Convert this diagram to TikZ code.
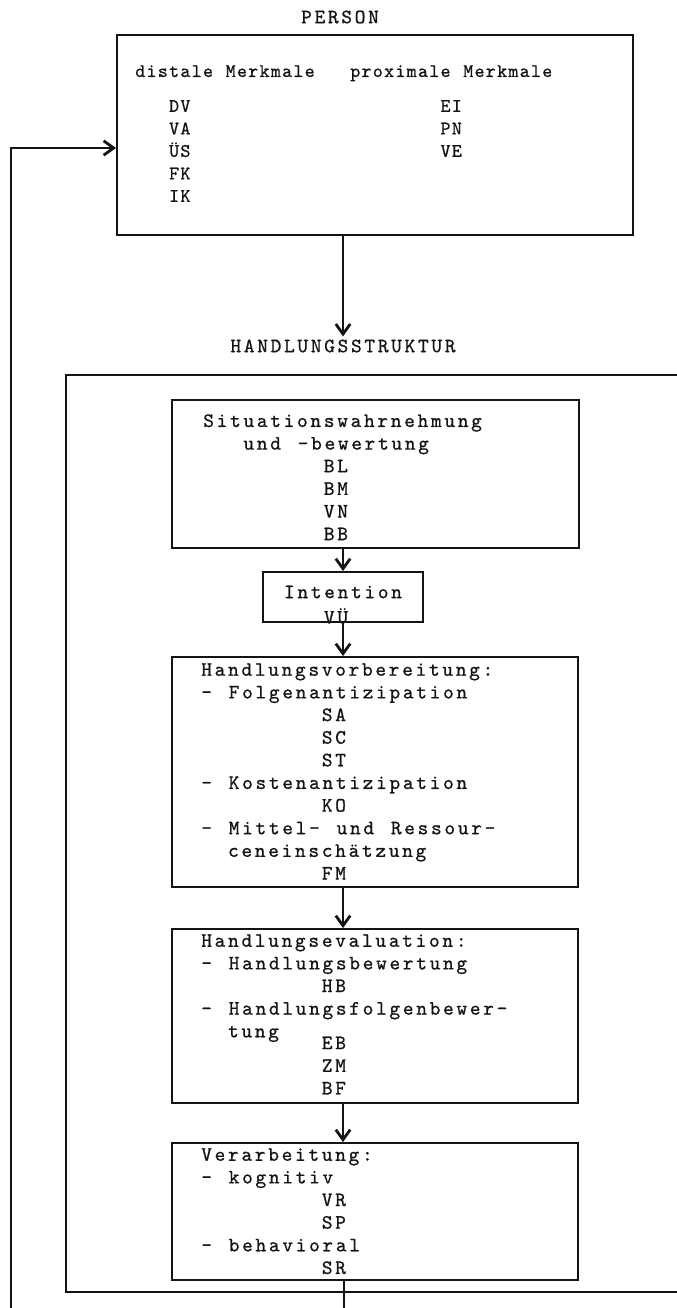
\documentclass[tikz,border=0pt]{standalone}
\usepackage{fontspec}
\usetikzlibrary{arrows.meta, positioning, calc}
\newfontfamily\typefont{lmmono10-regular.otf}[LetterSpace=13.2, WordSpace=1.252, FakeBold=0.8]
\newfontfamily\typefontnarrow{lmmono10-regular.otf}[LetterSpace=6.5, WordSpace=1.124, FakeBold=0.8]
\definecolor{TypeBlack}{HTML}{141414}
\newcommand{\typ}{\typefont\fontsize{14.5pt}{16.1pt}\selectfont}
\newcommand{\typsmall}{\typefontnarrow\fontsize{13.6pt}{16pt}\selectfont}
\newcommand{\tab}[1]{\setbox0\hbox{xx}\setbox2\hbox{x}\hspace*{#1\dimexpr\wd0-\wd2\relax}}
\tikzset{
    box/.style={
        draw=TypeBlack,
        line width=1.3pt,
        inner sep=0pt
    },
    heading/.style={
        font=\typ,
        text=TypeBlack,
        inner sep=2pt
    },
    txt/.style={
        font=\typ,
        text=TypeBlack,
        anchor=north west,
        align=left,
        inner sep=0pt
    },
    txtsmall/.style={
        txt,
        font=\typsmall
    },
    arrow/.style={
        -{Straight Barb[length=2.5mm, width=3.6mm, line width=2pt]},
        line width=1.4pt,
        TypeBlack
    },
    plainline/.style={
        line width=1.1pt,
        TypeBlack
    }
}

\begin{document}
\begin{tikzpicture}[x=0.025cm, y=-0.025cm]
        \useasboundingbox (0,0) rectangle (677,1308);

        % Person
        \node[heading] (ptitle) at (340,17) {PERSON};
        \node[box, minimum width=12.9cm, minimum height=5cm] (person) at (375,135) {};
        \node[txtsmall] (distal) at (135,65) {distale Merkmale\\[0.31cm]\tab{3}DV\\\tab{3}VA\\\tab{3}ÜS\\\tab{3}FK\\\tab{3}IK};
        \node[txtsmall] (proximal) at (350,65) {proximale Merkmale\\[0.31cm]\tab{8}EI\\\tab{8}PN\\\tab{8}VE};

        % Handlungsstruktur
        \node[heading] (hstitle) at (343,346) {HANDLUNGSSTRUKTUR};
        \node[box, minimum width=17.35cm, minimum height=22.925cm] (hstruct) at (413,833.5) {};

        % Situation
        \node[box, minimum width=10.175cm, minimum height=3.7cm] (sit) at (375.5,474) {};
        \node[txt] (sittext) at (203,414) {Situationswahrnehmung\\\tab{3}und -bewertung\\\tab{9}BL\\\tab{9}BM\\\tab{9}VN\\\tab{9}BB};

        % Intention
        \node[box, minimum width=4cm, minimum height=1.25cm] (intent) at (343,597) {};
        \node[heading] (intenttext) at (343,592) {Intention};
        \node[heading, inner sep=0pt] (vue) at (336,616) {VÜ};

        % Handlungsvorbereitung
        \node[box, minimum width=10.15cm, minimum height=5.75cm] (prep) at (375,772) {};
        \node[txt] (preptext) at (201,663) {Handlungsvorbereitung:\\- Folgenantizipation\\\tab{9}SA\\\tab{9}SC\\\tab{9}ST\\- Kostenantizipation\\\tab{9}KO\\- Mittel- und Ressour-\\\tab{2}ceneinschätzung\\\tab{9}FM};

        % Handlungsevaluation
        \node[box, minimum width=10.15cm, minimum height=4.35cm] (eval) at (375,1016) {};
        \node[txt] (evaltext) at (201,934) {Handlungsevaluation:\\- Handlungsbewertung\\\tab{9}HB\\- Handlungsfolgenbewer-\\\tab{2}tung\\[-0.27cm]\tab{9}EB\\\tab{9}ZM\\\tab{9}BF};

        % Verarbeitung
        \node[box, minimum width=10.15cm, minimum height=3.425cm] (proc) at (375,1211.5) {};
        \node[txt] (proctext) at (201,1148) {Verarbeitung:\\- kognitiv\\\tab{9}VR\\\tab{9}SP\\- behavioral\\\tab{9}SR};

        % Pfeile
        \coordinate (procout) at (344,1308);
        \coordinate (fbout) at (11,1308);
        \draw[arrow] (hstitle.north |- person.south) -- (hstitle.north);
        \draw[arrow] (intent.north |- sit.south) -- (intent.north);
        \draw[arrow] (intent.south) -- (intent.south |- prep.north);
        \draw[arrow] (intent.south |- prep.south) -- (intent.south |- eval.north);
        \draw[arrow] (intent.south |- eval.south) -- (intent.south |- proc.north);
        \draw[plainline] (procout |- proc.south) -- (procout);
        \draw[arrow, line width=1.1pt] (fbout) |- ($(person.west)+(0,13)$);
    \end{tikzpicture}
\end{document}
